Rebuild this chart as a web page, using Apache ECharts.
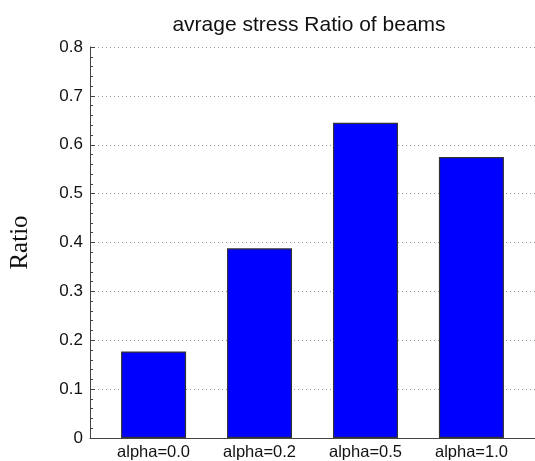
<!DOCTYPE html>
<html>
<head>
<meta charset="utf-8">
<script src="https://cdn.jsdelivr.net/npm/echarts@6/dist/echarts.min.js"></script>
<style>
  html, body { margin: 0; padding: 0; background: #fff; }
  #chart { width: 535px; height: 461px; }
</style>
</head>
<body>
<div id="chart"></div>
<script>
// Average stress ratio of beams for each alpha setting
const categories = ['alpha=0.0', 'alpha=0.2', 'alpha=0.5', 'alpha=1.0'];
const ratios = [0.177, 0.388, 0.645, 0.575];
const positions = [1, 2, 3, 4];

const chart = echarts.init(document.getElementById('chart'), null, { renderer: 'canvas' });

const barData = positions.map((p, i) => [p, ratios[i]]);

chart.setOption({
  animation: false,
  backgroundColor: '#ffffff',
  title: {
    text: 'avrage stress Ratio of beams',
    left: 304,
    textAlign: 'center',
    top: 10,
    textStyle: {
      fontFamily: 'Liberation Sans, Arial, sans-serif',
      fontSize: 21,
      fontWeight: 'normal',
      color: '#111'
    }
  },
  grid: { left: 89, right: 0, top: 47, bottom: 22, containLabel: false },
  xAxis: {
    type: 'value',
    min: 0.4,
    max: 4.6,
    axisLine: { show: true, onZero: false, lineStyle: { color: '#444', width: 1 } },
    axisTick: { show: false },
    splitLine: { show: false },
    axisLabel: {
      customValues: positions,
      formatter: v => categories[positions.indexOf(v)] || '',
      fontFamily: 'Liberation Sans, Arial, sans-serif',
      fontSize: 16.5,
      color: '#111',
      margin: 6
    }
  },
  yAxis: [{
    type: 'value',
    min: 0,
    max: 0.8,
    interval: 0.1,
    name: 'Ratio',
    nameLocation: 'middle',
    nameGap: 57,
    nameRotate: 90,
    nameTextStyle: {
      fontFamily: 'Liberation Serif, Times New Roman, serif',
      fontSize: 25,
      color: '#111'
    },
    axisLine: { show: true, lineStyle: { color: '#444', width: 1 } },
    axisTick: { show: true, inside: true, length: 5, lineStyle: { color: '#444' } },
    splitLine: { show: true, lineStyle: { color: '#999', type: [1, 3], width: 1 } },
    axisLabel: {
      formatter: v => (v === 0 ? '0' : v.toFixed(1)),
      fontFamily: 'Liberation Sans, Arial, sans-serif',
      fontSize: 17,
      color: '#111',
      margin: 7
    }
  }, {
    // fine tick marks every 0.02 along the left axis
    type: 'value',
    position: 'left',
    min: 0,
    max: 0.8,
    interval: 0.02,
    axisLine: { show: false },
    axisTick: { show: true, inside: true, length: 3, lineStyle: { color: '#444' } },
    axisLabel: { show: false },
    splitLine: { show: false }
  }],
  series: [{
    type: 'bar',
    yAxisIndex: 0,
    data: barData,
    barWidth: 65,
    itemStyle: { color: '#0000ff', borderColor: '#333', borderWidth: 1.2 }
  }]
});
</script>
</body>
</html>
